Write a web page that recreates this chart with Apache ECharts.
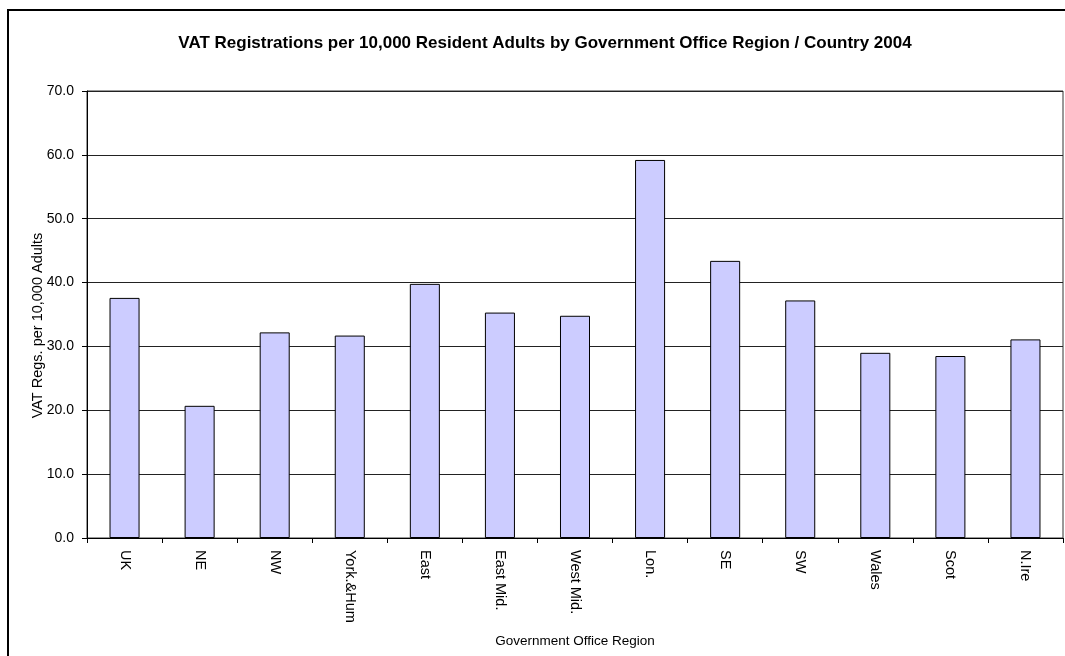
<!DOCTYPE html>
<html>
<head>
<meta charset="utf-8">
<script src="https://cdn.jsdelivr.net/npm/echarts@6/dist/echarts.min.js"></script>
<style>
  html, body { margin: 0; padding: 0; background: #fff; }
  #chart { width: 1065px; height: 656px; }
</style>
</head>
<body>
<div id="chart"></div>
<script>
// Regions and their VAT registrations per 10,000 resident adults, 2004
const regions = ['UK', 'NE', 'NW', 'York.&Hum', 'East', 'East Mid.', 'West Mid.', 'Lon.', 'SE', 'SW', 'Wales', 'Scot', 'N.Ire'];
const registrations = [37.6, 20.7, 32.2, 31.7, 39.8, 35.3, 34.8, 59.2, 43.4, 37.2, 29.0, 28.5, 31.1];
const yTicks = { min: 0, max: 70, interval: 10 };

const FONT = '"Liberation Sans", Arial, sans-serif';
const chart = echarts.init(document.getElementById('chart'), null, { renderer: 'canvas' });

chart.setOption({
  backgroundColor: '#fff',
  animation: false,
  title: {
    text: 'VAT Registrations per 10,000 Resident Adults by Government Office Region / Country 2004',
    left: 540,
    textAlign: 'center',
    top: 30,
    textStyle: { fontFamily: FONT, fontSize: 17, fontWeight: 'bold', color: '#000' }
  },
  graphic: [{
    type: 'rect',
    shape: { x: 8, y: 10, width: 1070, height: 700 },
    style: { fill: 'none', stroke: '#000', lineWidth: 2 },
    silent: true,
    z: -1
  }],
  grid: {
    left: 87, right: 2, top: 91, bottom: 118,
    show: true, borderColor: '#333', borderWidth: 1, backgroundColor: 'transparent'
  },
  xAxis: {
    type: 'category',
    data: regions,
    name: 'Government Office Region',
    nameLocation: 'middle',
    nameGap: 96,
    nameTextStyle: { fontFamily: FONT, fontSize: 13.5, color: '#000' },
    axisLine: { lineStyle: { color: '#000', width: 1 } },
    axisTick: { show: true, length: 5, lineStyle: { color: '#000' } },
    axisLabel: { rotate: -90, margin: 12, fontFamily: FONT, fontSize: 14.5, color: '#000' },
    splitLine: { show: false }
  },
  yAxis: {
    type: 'value',
    min: yTicks.min, max: yTicks.max, interval: yTicks.interval,
    name: 'VAT Regs. per 10,000 Adults',
    nameLocation: 'middle',
    nameGap: 42,
    nameMoveOverlap: false,
    nameTextStyle: { fontFamily: FONT, fontSize: 14.5, color: '#000', padding: [0, 22, 0, 0] },
    axisLine: { show: true, lineStyle: { color: '#000', width: 1 } },
    axisTick: { show: true, length: 5, lineStyle: { color: '#000' } },
    axisLabel: { margin: 13, fontFamily: FONT, fontSize: 14, color: '#000', formatter: v => v.toFixed(1) },
    splitLine: { show: true, lineStyle: { color: '#222', width: 1 } }
  },
  series: [{
    type: 'bar',
    data: registrations,
    barWidth: '40%',
    itemStyle: { color: '#CCCCFF', borderColor: '#000', borderWidth: 1 }
  }]
});
</script>
</body>
</html>
